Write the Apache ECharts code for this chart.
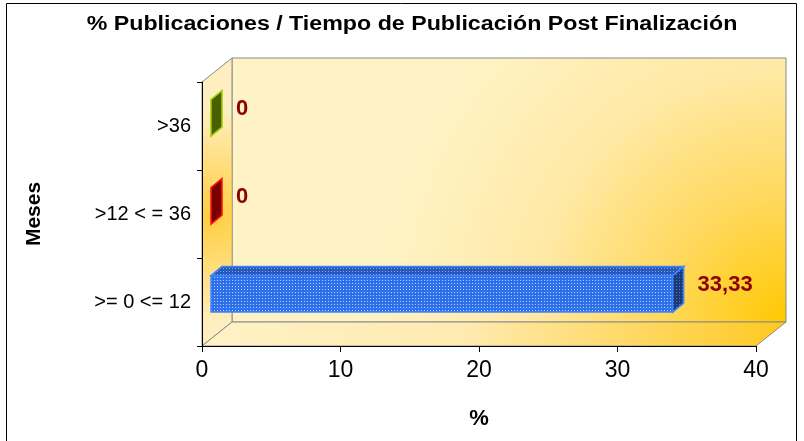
<!DOCTYPE html>
<html>
<head>
<meta charset="utf-8">
<style>
  html, body { margin: 0; padding: 0; background: #fff; }
  #chart { width: 804px; height: 441px; }
</style>
<script src="https://cdn.jsdelivr.net/npm/echarts@6/dist/echarts.min.js"></script>
</head>
<body>
<div id="chart"></div>
<script>
// data
const categories = ['>= 0 <= 12', '>12 < = 36', '>36']
const values = [33.33, 0, 0]
const valueLabels = ['33,33', '0', '0']
const xTicks = [0, 10, 20, 30, 40]

const titleText = '% Publicaciones / Tiempo de Publicación Post Finalización'
const FONT = '"Liberation Sans", Arial, sans-serif'

// fake 3d depth of the walls and the bars
const WALL_DX = 30, WALL_DY = 24
const BAR_SHIFT = 9, BAR_DX = 11, BAR_DY = 9

const dots = (base, dot) => {
  const c = document.createElement('canvas')
  c.width = 3; c.height = 3
  const ctx = c.getContext('2d')
  ctx.fillStyle = base
  ctx.fillRect(0, 0, 3, 3)
  ctx.fillStyle = dot
  ctx.fillRect(1, 1, 1, 1)
  return { image: c, repeat: 'repeat' }
}

const barStyles = [
  { face: dots('#2E70EC', '#B4CEFF'), top: dots('#2858B8', '#7FA3E8'), side: dots('#1B3A78', '#5A78B8'), border: '#3D84FF' },
  { face: '#780000', top: '#780000', side: '#780000', border: '#FF1010' },
  { face: '#4A6000', top: '#4A6000', side: '#4A6000', border: '#9ACD00' }
]

const G = echarts.graphic

const renderWalls = (params) => {
  const cs = params.coordSys
  const x = cs.x, y = cs.y, w = cs.width, h = cs.height, b = y + h
  const edge = { stroke: '#8a8a8a', lineWidth: 1 }
  const left = [[x, y], [x + WALL_DX, y - WALL_DY], [x + WALL_DX, b - WALL_DY], [x, b]]
  return {
    type: 'group',
    children: [
      {
        type: 'rect',
        shape: { x: x + WALL_DX, y: y - WALL_DY, width: w, height: h },
        style: {
          fill: new G.RadialGradient(1, 1, 1.55, [
            { offset: 0, color: '#FFC800' },
            { offset: 0.3, color: '#FFD85C' },
            { offset: 0.62, color: '#FFE9A6' },
            { offset: 1, color: '#FFF3C6' }
          ]),
          ...edge
        }
      },
      {
        type: 'polygon',
        shape: { points: left },
        style: { fill: '#FFEFC0', ...edge }
      },
      {
        type: 'polygon',
        shape: { points: left },
        style: {
          fill: new G.RadialGradient(0.35, 0.55, 3.6, [
            { offset: 0, color: 'rgba(255,200,40,0.85)' },
            { offset: 1, color: 'rgba(255,200,40,0)' }
          ])
        }
      },
      {
        type: 'polygon',
        shape: { points: [[x, b], [x + WALL_DX, b - WALL_DY], [x + w + WALL_DX, b - WALL_DY], [x + w, b]] },
        style: {
          fill: new G.LinearGradient(0, 0, 1, 0, [
            { offset: 0, color: '#FFF2C6' },
            { offset: 0.45, color: '#FFEAB0' },
            { offset: 1, color: '#FFC820' }
          ]),
          ...edge
        }
      }
    ]
  }
}

const renderBar = (params, api) => {
  const v = api.value(0), idx = api.value(1)
  const p0 = api.coord([0, idx]), p1 = api.coord([v, idx])
  const band = api.size([0, 1])[1]
  const x0 = p0[0] + BAR_SHIFT, x1 = p1[0] + BAR_SHIFT
  const yTop = p0[1] - band * 0.3
  const yBot = yTop + band * 0.415
  const s = barStyles[params.dataIndex]
  const line = { stroke: s.border, lineWidth: 1.5 }
  const children = []
  if (x1 - x0 > 0.5) {
    children.push({
      type: 'polygon',
      shape: { points: [[x0, yTop], [x0 + BAR_DX, yTop - BAR_DY], [x1 + BAR_DX, yTop - BAR_DY], [x1, yTop]] },
      style: { fill: s.top, ...line }
    })
    children.push({
      type: 'rect',
      shape: { x: x0, y: yTop, width: x1 - x0, height: yBot - yTop },
      style: { fill: s.face, ...line }
    })
  }
  children.push({
    type: 'polygon',
    shape: { points: [[x1, yTop], [x1 + BAR_DX, yTop - BAR_DY], [x1 + BAR_DX, yBot - BAR_DY], [x1, yBot]] },
    style: { fill: s.side, ...line }
  })
  children.push({
    type: 'text',
    x: x1 + BAR_DX + 14,
    y: yTop + 9,
    style: {
      text: valueLabels[params.dataIndex],
      font: 'bold 22px ' + FONT,
      fill: '#8B0000',
      verticalAlign: 'middle'
    }
  })
  return { type: 'group', children }
}

const chart = echarts.init(document.getElementById('chart'))

chart.setOption({
  backgroundColor: '#fff',
  animation: false,
  graphic: [
    {
      type: 'rect',
      shape: { x: 6.5, y: 3.5, width: 790, height: 460 },
      style: { fill: 'none', stroke: '#000', lineWidth: 1 },
      silent: true
    },
    {
      type: 'text',
      x: 412,
      y: 24,
      scaleX: 1.16,
      style: {
        text: titleText,
        font: 'bold 20px ' + FONT,
        fill: '#000',
        align: 'center',
        verticalAlign: 'middle'
      }
    }
  ],
  grid: { left: 202, right: 48, top: 82, bottom: 95 },
  xAxis: {
    type: 'value',
    min: xTicks[0],
    max: xTicks[xTicks.length - 1],
    interval: xTicks[1] - xTicks[0],
    name: '%',
    nameLocation: 'middle',
    nameGap: 62,
    nameTextStyle: { fontSize: 22, fontWeight: 'bold', color: '#000', fontFamily: FONT },
    axisLine: { show: true, lineStyle: { color: '#000' } },
    axisTick: { show: true, length: 6, lineStyle: { color: '#000' } },
    axisLabel: { fontSize: 23, color: '#000', margin: 13, fontFamily: FONT },
    splitLine: { show: false },
    z: 3
  },
  yAxis: {
    type: 'category',
    data: categories,
    name: 'Meses',
    nameLocation: 'middle',
    nameGap: 157,
    nameRotate: 90,
    nameTextStyle: { fontSize: 21, fontWeight: 'bold', color: '#000', fontFamily: FONT },
    axisLine: { show: true, lineStyle: { color: '#000' } },
    axisTick: { show: true, length: 5, lineStyle: { color: '#000' } },
    axisLabel: { fontSize: 20, color: '#000', margin: 11, fontFamily: FONT },
    splitLine: { show: false },
    z: 3
  },
  series: [
    {
      type: 'custom',
      z: 1,
      clip: false,
      silent: true,
      renderItem: renderWalls,
      data: [[0, 0]]
    },
    {
      type: 'custom',
      z: 2,
      clip: false,
      renderItem: renderBar,
      encode: { x: 0, y: 1 },
      data: values.map((v, i) => [v, i])
    }
  ]
})

window.addEventListener('resize', () => chart.resize())
</script>
</body>
</html>
